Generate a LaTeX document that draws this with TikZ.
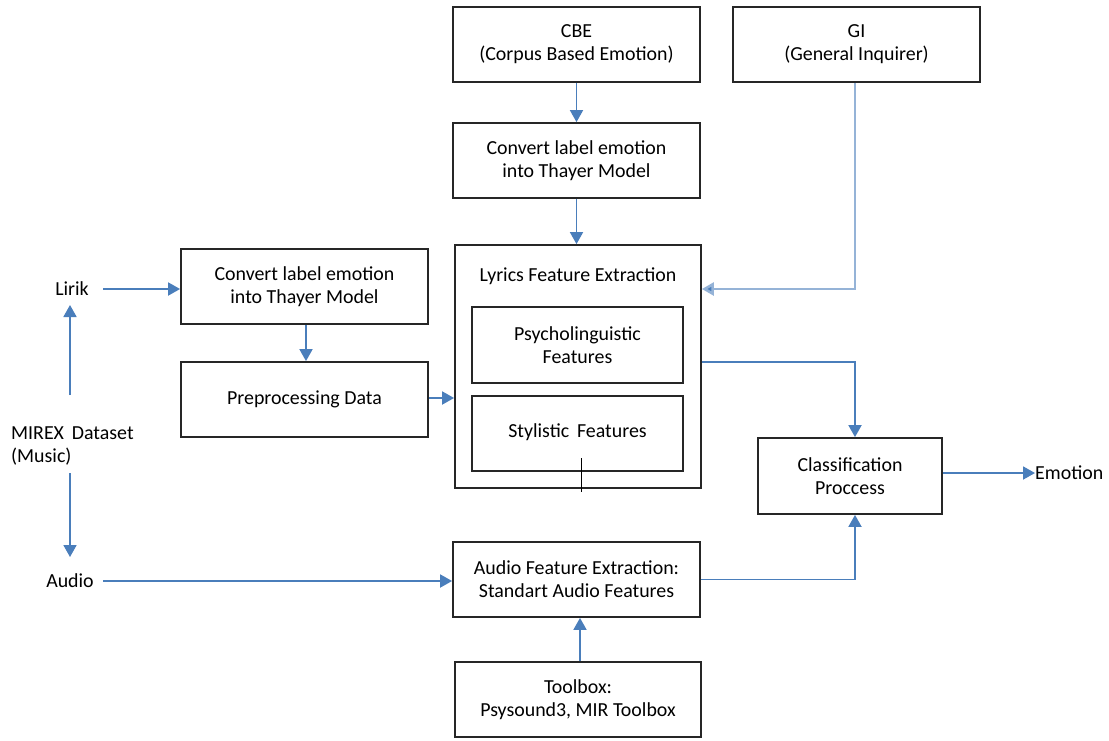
\documentclass[tikz,border=0pt]{standalone}
\usepackage{fontspec}
\setmainfont{Carlito}
\usetikzlibrary{arrows.meta}
\definecolor{arrblue}{HTML}{4A7EBB}
\definecolor{giblue}{HTML}{95B3D7}
\begin{document}
\begin{tikzpicture}[x=1pt,y=-1pt,
  box/.style={draw=black!85,line width=1.8pt,align=center,minimum width=247pt,minimum height=75pt,inner sep=0pt},
  lbl/.style={align=left,inner sep=0pt},
  conn/.style={draw=arrblue,line width=1.8pt,-{Triangle[length=12pt,width=13pt]}},
  giconn/.style={draw=giblue,line width=2.6pt,-{Triangle[length=12pt,width=13pt,fill=arrblue]}},
  every node/.style={font=\fontsize{19.9}{23}\selectfont}]
\useasboundingbox (0,0) rectangle (1109,740);
\fill[white] (0,0) rectangle (1109,740);
% boxes
\node[box] (cbe) at (576.5,44.5) {CBE\\(Corpus Based Emotion)};
\node[box] (gi) at (856.5,44.5) {GI\\(General Inquirer)};
\node[box] (conv1) at (576.5,160.5) {Convert label emotion\\into Thayer Model};
\node[box,minimum width=246pt,minimum height=243pt] (lfe) at (578,366.5) {};
\node[inner sep=0pt] (lfetitle) at (578,276) {Lyrics Feature Extraction};
\node[box,minimum width=211pt,minimum height=76pt] (psy) at (577.5,345) {Psycholinguistic\\Features};
\node[box,minimum width=211pt,minimum height=75pt] (sty) at (577.5,433.5) {};
\node[inner sep=0pt] (stytext) at (577.5,432) {Stylistic\, Features};
\node[box] (conv2) at (304.5,286.5) {Convert label emotion\\into Thayer Model};
\node[box] (pre) at (304.5,399.5) {Preprocessing Data};
\node[box,minimum width=184pt,minimum height=76pt] (cls) at (850,476) {Classification\\Proccess};
\node[box] (afe) at (576.5,579.5) {Audio Feature Extraction:\\Standart Audio Features};
\node[box,minimum width=246pt] (tool) at (578,699.5) {Toolbox:\\Psysound3, MIR Toolbox};
% labels
\node[lbl] (lirik) at (72,289) {Lirik};
\node[lbl,anchor=west] (mirex) at (11,446) {MIREX\, Dataset\\(Music)};
\node[lbl] (audio) at (70,581) {Audio};
\node[lbl,anchor=west] (emotion) at (1035,473) {Emotion};
% coordinates for free ends
\coordinate (mirexup) at (70,395);
\coordinate (lirikbot) at (70,305);
\coordinate (mirexdown) at (70,473);
\coordinate (audiotop) at (70,557);
\coordinate (lirikend) at (103,289);
\coordinate (audioend) at (103,581);
% connectors
\draw[conn] (cbe.south) -- (conv1.north);
\draw[conn] (conv1.south) -- (conv1.south |- lfe.north);
\draw[giconn] (gi.south -| 855,0) |- (lfe.east |- 0,289);
\draw[conn] (lirikend) -- (conv2.west |- lirikend);
\draw[conn] (conv2.south -| 306,0) -- (pre.north -| 306,0);
\draw[conn] (pre.east |- 0,398) -- (lfe.west |- 0,398);
\draw[conn] (mirexup) -- (lirikbot);
\draw[conn] (mirexdown) -- (audiotop);
\draw[conn] (audioend) -- (afe.west |- audioend);
\draw[conn] (lfe.east |- 0,362) -| (cls.north -| 855,0);
\draw[conn] (afe.east) -| (cls.south -| 855,0);
\draw[conn] (cls.east |- 0,473) -- (emotion.west);
\draw[conn] (tool.north -| 580,0) -- (afe.south -| 580,0);
% small tick
\draw[black,line width=1pt] (581,458) -- (581,492);
\end{tikzpicture}
\end{document}
